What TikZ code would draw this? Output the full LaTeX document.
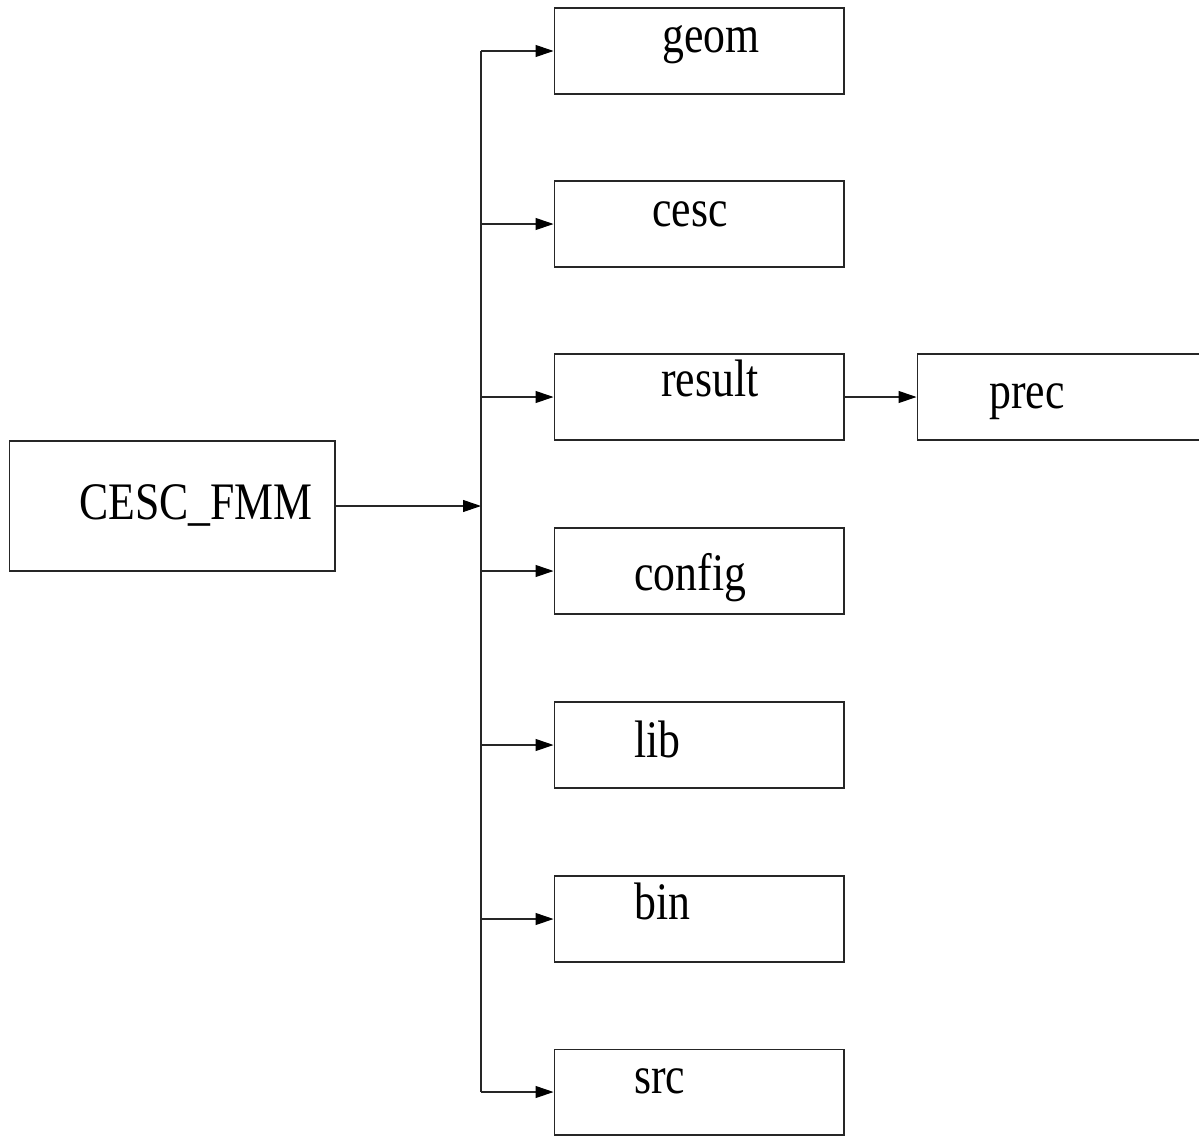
\documentclass[tikz,border=0pt]{standalone}
\usepackage{fontspec}
\newfontfamily\figfont[FakeStretch=0.83]{Liberation Serif}
\usetikzlibrary{arrows.meta}

\begin{document}
\begin{tikzpicture}[x=0.02cm, y=-0.02cm,
    dirbox/.style={rectangle, draw=black!85, line width=0.6pt, inner sep=0pt,
      minimum width=5.8cm, minimum height=1.72cm},
    dirname/.style={anchor=base west, inner sep=0pt, font=\figfont\fontsize{30}{36}\selectfont},
    link/.style={draw=black!85, line width=0.6pt, -{Triangle[length=0.36cm, width=0.24cm, color=black]}}]
  \useasboundingbox (0,0) rectangle (1199,1136);

  % top directory
  \node[dirbox, minimum width=6.52cm, minimum height=2.6cm] (root) at (172,506) {};
  \node[dirname] (rootname) at (79,519) {CESC\_FMM};
  \coordinate (trunk) at (481,506);

  % sub directories
  \node[dirbox] (geom) at (699,51) {};
  \node[dirname] (geomname) at (662,52) {geom};
  \node[dirbox] (cesc) at (699,224) {};
  \node[dirname] (cescname) at (652,226) {cesc};
  \node[dirbox] (result) at (699,397) {};
  \node[dirname] (resultname) at (661,396) {result};
  \node[dirbox] (config) at (699,571) {};
  \node[dirname] (configname) at (634,590) {config};
  \node[dirbox] (lib) at (699,745) {};
  \node[dirname] (libname) at (634,757) {lib};
  \node[dirbox] (bin) at (699,919) {};
  \node[dirname] (binname) at (634,919) {bin};
  \node[dirbox] (src) at (699,1092) {};
  \node[dirname] (srcname) at (634,1093) {src};

  \node[dirbox] (prec) at (1062,397) {};
  \node[dirname] (precname) at (989,408) {prec};

  % connectors
  \draw[link] (root.east) -- (trunk);
  \draw[draw=black!85, line width=0.6pt] (geom.west -| trunk) -- (src.west -| trunk);
  \draw[link] (geom.west -| trunk) -- (geom.west);
  \draw[link] (cesc.west -| trunk) -- (cesc.west);
  \draw[link] (result.west -| trunk) -- (result.west);
  \draw[link] (config.west -| trunk) -- (config.west);
  \draw[link] (lib.west -| trunk) -- (lib.west);
  \draw[link] (bin.west -| trunk) -- (bin.west);
  \draw[link] (src.west -| trunk) -- (src.west);
  \draw[link] (result.east) -- (prec.west);
\end{tikzpicture}
\end{document}
